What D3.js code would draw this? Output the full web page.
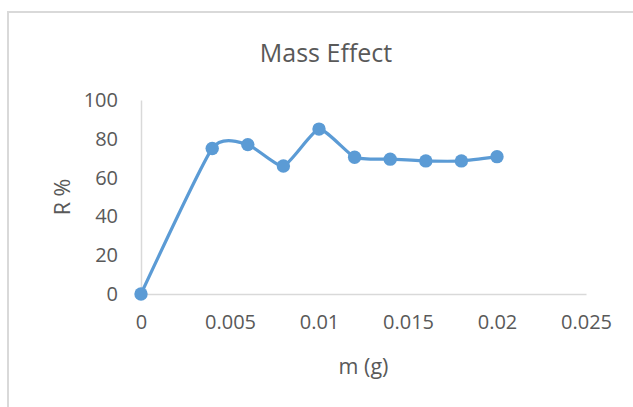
<!DOCTYPE html>
<html><head><meta charset="utf-8">
<script src="https://cdn.jsdelivr.net/npm/d3@7"></script>
<style>
html,body{margin:0;padding:0;background:#fff;}
svg text{font-family:"Open Sans",sans-serif;fill:#595959;}
</style></head>
<body>
<svg id="chart" width="633" height="407"></svg>
<script>
const massValues = [0, 0.004, 0.006, 0.008, 0.010, 0.012, 0.014, 0.016, 0.018, 0.020];
const removalValues = [0, 75, 77, 66, 85, 70.5, 69.5, 68.6, 68.6, 70.8];
const xTicks = [0, 0.005, 0.01, 0.015, 0.02, 0.025];
const yTicks = [0, 20, 40, 60, 80, 100];
const chartTitle = "Mass Effect";
const xTitle = "m (g)";
const yTitle = "R %";

const svg = d3.select("#chart");
const W = 633, H = 407;
const plot = {left: 141, right: 586, top: 100, bottom: 294};

svg.append("rect").attr("x", 8).attr("y", 12).attr("width", W).attr("height", H)
  .attr("fill", "#fff").attr("stroke", "#D9D9D9").attr("stroke-width", 2);

const x = d3.scaleLinear().domain([0, 0.025]).range([plot.left, plot.right]);
const y = d3.scaleLinear().domain([0, 100]).range([plot.bottom, plot.top]);

const xAxis = svg.append("g").attr("transform", `translate(0,${plot.bottom})`)
  .call(d3.axisBottom(x).tickValues(xTicks).tickSize(0).tickPadding(21).tickFormat(d => String(+d.toFixed(3))));
xAxis.select(".domain").attr("stroke", "#D9D9D9").attr("stroke-width", 1.5);
xAxis.selectAll("text").attr("font-size", 20).style("font-family", '"Open Sans",sans-serif').attr("fill", "#595959");

const yAxis = svg.append("g").attr("transform", `translate(${plot.left},0)`)
  .call(d3.axisLeft(y).tickValues(yTicks).tickSize(0).tickPadding(23));
yAxis.select(".domain").attr("stroke", "#D9D9D9").attr("stroke-width", 1.5);
yAxis.selectAll("text").attr("font-size", 20).style("font-family", '"Open Sans",sans-serif').attr("fill", "#595959");

svg.append("text").attr("x", 326).attr("y", 62).attr("text-anchor", "middle")
  .attr("font-size", 25).text(chartTitle);
svg.append("text").attr("x", (plot.left + plot.right) / 2).attr("y", 374).attr("text-anchor", "middle")
  .attr("font-size", 21.5).text(xTitle);
svg.append("text").attr("transform", `translate(70,197) rotate(-90)`).attr("text-anchor", "middle")
  .attr("font-size", 21.5).text(yTitle);

const data = massValues.map((m, i) => ({m, r: removalValues[i]}));
const line = d3.line().x(d => x(d.m)).y(d => y(d.r)).curve(d3.curveCardinal.tension(0.45));
svg.append("path").datum(data).attr("d", line).attr("fill", "none")
  .attr("stroke", "#5B9BD5").attr("stroke-width", 3.2).attr("stroke-linecap", "round");
svg.selectAll("circle.pt").data(data).join("circle").attr("class", "pt")
  .attr("cx", d => x(d.m)).attr("cy", d => y(d.r)).attr("r", 6.7).attr("fill", "#5B9BD5");
</script>
</body></html>
